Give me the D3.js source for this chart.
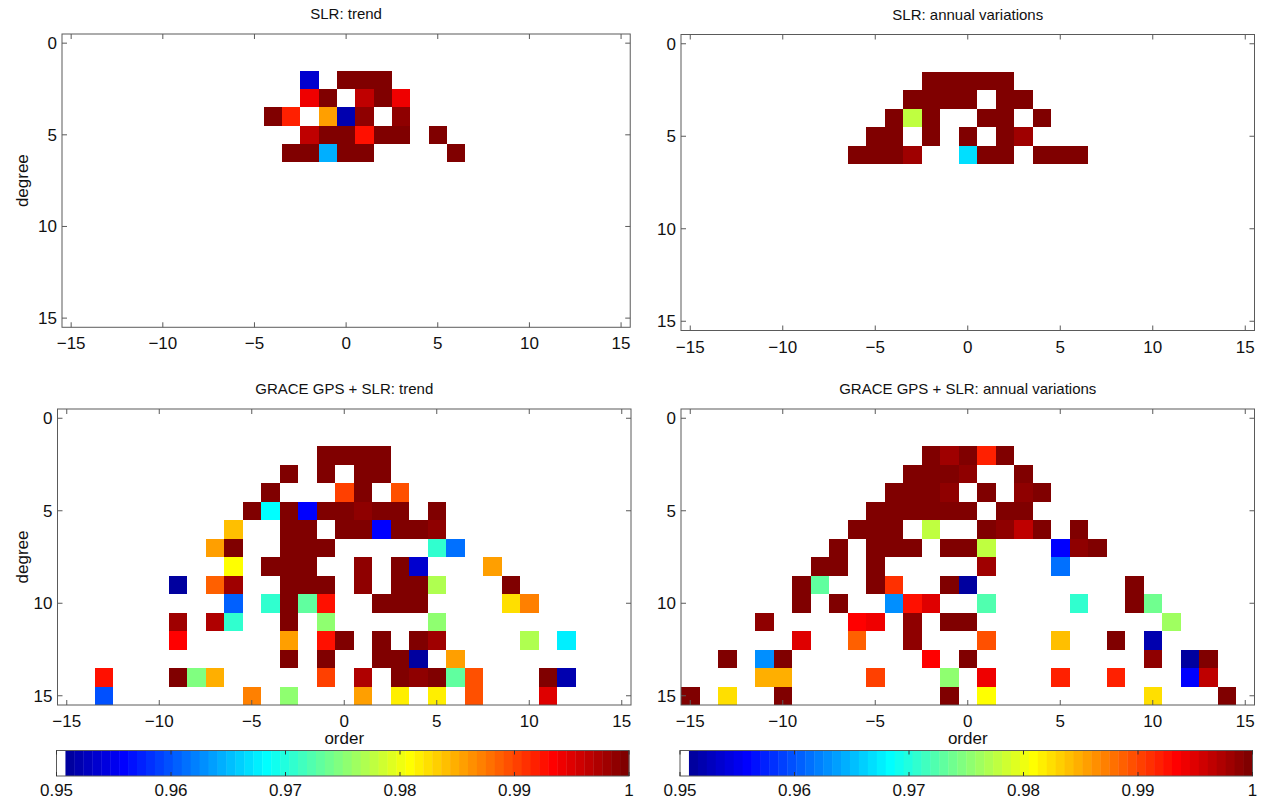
<!DOCTYPE html>
<html>
<head>
<meta charset="utf-8">
<script src="https://cdn.jsdelivr.net/npm/d3@7"></script>
<style>
  html, body { margin: 0; padding: 0; background: #fff; }
  svg { display: block; font-family: "Liberation Sans", Arial, Helvetica, sans-serif; }
</style>
</head>
<body>
<svg id="chart" width="1264" height="800"></svg>
<script>
// Correlation per spherical-harmonic coefficient: [degree, order, value]
const slrTrend = [
  [2,-2,0.9535],[2,0,1],[2,1,1],[2,2,1],
  [3,-2,0.9941],[3,-1,1],[3,1,0.9965],[3,2,1],[3,3,0.9941],
  [4,-4,1],[4,-3,0.9918],[4,-1,0.9855],[4,0,0.9520],[4,1,0.9988],[4,3,0.9988],
  [5,-2,0.9965],[5,-1,1],[5,0,1],[5,1,0.9926],[5,2,1],[5,3,1],[5,5,1],
  [6,-3,1],[6,-2,1],[6,-1,0.9645],[6,0,1],[6,1,1],[6,6,1]
];

const slrAnnual = [
  [2,-2,1],[2,-1,1],[2,0,1],[2,1,1],[2,2,1],
  [3,-3,1],[3,-2,1],[3,-1,1],[3,0,1],[3,2,1],[3,3,1],
  [4,-4,1],[4,-3,0.9777],[4,-2,1],[4,1,1],[4,2,1],[4,4,1],
  [5,-5,1],[5,-4,1],[5,-2,1],[5,0,1],[5,2,1],[5,3,0.998],
  [6,-6,1],[6,-5,1],[6,-4,1],[6,-3,0.998],[6,0,0.9668],[6,1,1],[6,2,1],[6,4,1],[6,5,1],[6,6,1]
];

const graceTrend = [
  [2,-1,1],[2,0,1],[2,1,1],[2,2,1],
  [3,-3,1],[3,-1,1],[3,1,1],[3,2,1],
  [4,-4,1],[4,0,0.9906],[4,1,1],[4,3,0.9895],
  [5,-5,1],[5,-4,0.9684],[5,-3,1],[5,-2,0.9559],[5,-1,1],[5,0,1],[5,1,0.9988],[5,2,1],[5,3,1],[5,5,1],
  [6,-6,0.9840],[6,-3,1],[6,-2,1],[6,0,1],[6,1,1],[6,2,0.9559],[6,3,1],[6,4,1],[6,5,0.9988],
  [7,-7,0.9855],[7,-6,1],[7,-3,1],[7,-2,1],[7,-1,1],[7,5,0.9707],[7,6,0.9613],
  [8,-6,0.9809],[8,-4,1],[8,-3,1],[8,-2,1],[8,1,0.9988],[8,3,1],[8,4,0.9535],[8,8,0.9855],
  [9,-9,0.9512],[9,-7,0.9887],[9,-6,0.998],[9,-3,1],[9,-2,1],[9,-1,1],[9,1,0.9988],[9,3,1],[9,4,1],[9,5,0.9770],[9,9,1],
  [10,-6,0.9605],[10,-4,0.9707],[10,-3,1],[10,-2,0.9727],[10,-1,0.9926],[10,2,1],[10,3,1],[10,4,1],[10,9,0.9824],[10,10,0.9871],
  [11,-9,0.998],[11,-7,0.9973],[11,-6,0.9707],[11,-3,1],[11,-1,0.9754],[11,5,0.9754],
  [12,-9,0.9934],[12,-3,0.9855],[12,-1,0.9926],[12,0,1],[12,2,1],[12,4,1],[12,5,0.998],[12,10,0.9770],[12,12,0.9676],
  [13,-3,1],[13,-1,1],[13,2,1],[13,3,1],[13,4,0.9512],[13,6,0.9855],
  [14,-13,0.9926],[14,-9,1],[14,-8,0.9746],[14,-7,0.9848],[14,-1,0.9902],[14,1,0.9973],[14,3,1],[14,4,0.9988],[14,5,1],[14,6,0.9730],[14,7,0.9895],[14,11,1],[14,12,0.9520],
  [15,-13,0.9598],[15,-5,0.9871],[15,-3,0.9754],[15,1,0.9855],[15,3,0.9816],[15,5,0.9816],[15,7,0.9895],[15,11,0.9949]
];

const graceAnnual = [
  [2,-2,1],[2,-1,0.998],[2,0,1],[2,1,0.9918],[2,2,1],
  [3,-3,1],[3,-2,1],[3,-1,1],[3,0,0.9988],[3,3,1],
  [4,-4,1],[4,-3,1],[4,-2,1],[4,-1,0.9988],[4,1,1],[4,3,0.9988],[4,4,1],
  [5,-5,1],[5,-4,1],[5,-3,1],[5,-2,1],[5,-1,1],[5,0,1],[5,2,1],[5,3,1],
  [6,-6,1],[6,-5,1],[6,-4,1],[6,-2,0.9777],[6,1,1],[6,2,0.9988],[6,3,0.9965],[6,4,1],[6,6,1],
  [7,-7,1],[7,-5,1],[7,-4,1],[7,-3,1],[7,-1,1],[7,0,1],[7,1,0.9777],[7,5,0.9559],[7,6,0.9988],[7,7,1],
  [8,-8,1],[8,-7,1],[8,-5,1],[8,1,0.998],[8,5,0.9613],
  [9,-9,1],[9,-8,0.9730],[9,-5,1],[9,-4,0.9910],[9,-1,1],[9,0,0.9512],[9,9,1],
  [10,-9,1],[10,-7,1],[10,-4,0.9629],[10,-3,0.9926],[10,-2,0.9949],[10,1,0.9723],[10,6,0.9707],[10,9,1],[10,10,0.9738],
  [11,-11,0.9988],[11,-6,0.9934],[11,-5,0.9941],[11,-3,0.9988],[11,-1,1],[11,0,1],[11,11,0.9762],
  [12,-9,0.9949],[12,-6,0.9887],[12,-3,0.9988],[12,1,0.9895],[12,5,0.9840],[12,8,1],[12,10,0.9520],
  [13,-13,1],[13,-11,0.9629],[13,-10,1],[13,-2,0.9934],[13,0,1],[13,10,0.9988],[13,12,0.9512],[13,13,1],
  [14,-11,0.9848],[14,-10,0.9848],[14,-5,0.9902],[14,-1,0.9754],[14,1,0.9941],[14,5,0.9918],[14,8,0.9918],[14,12,0.9559],[14,13,0.9965],
  [15,-15,1],[15,-13,0.9824],[15,-10,1],[15,-1,1],[15,1,0.9809],[15,10,0.9824],[15,14,1]
];

const orderTicks  = [-15, -10, -5, 0, 5, 10, 15];
const degreeTicks = [0, 5, 10, 15];
const colorTicks  = [0.95, 0.96, 0.97, 0.98, 0.99, 1];
const colorTickLabels = ["0.95", "0.96", "0.97", "0.98", "0.99", "1"];
const colorDomain = [0.95, 1];

// MATLAB-style jet(m)
function jet(m) {
  const n = Math.ceil(m / 4);
  const u = [];
  for (let i = 1; i <= n; i++) u.push(i / n);
  for (let i = 1; i <= n - 1; i++) u.push(1);
  for (let i = n; i >= 1; i--) u.push(i / n);
  const off = Math.ceil(n / 2) - (m % 4 === 1 ? 1 : 0);
  const J = Array.from({ length: m }, () => [0, 0, 0]);
  u.forEach((val, k) => {
    const g = off + k + 1, r = g + n, b = g - n;
    if (g >= 1 && g <= m) J[g - 1][1] = val;
    if (r >= 1 && r <= m) J[r - 1][0] = val;
    if (b >= 1 && b <= m) J[b - 1][2] = val;
  });
  return J;
}

// 64-entry colormap: lowest bin white, remaining bins from jet(64)
const NBINS = 64;
const jetMap = jet(NBINS);
const cmap = jetMap.map((c, i) => i === 0 ? "#ffffff" : d3.rgb(c[0] * 255, c[1] * 255, c[2] * 255).formatHex());
const binScale = d3.scaleQuantize().domain(colorDomain).range(d3.range(NBINS));
function binOf(v) { return v >= colorDomain[1] ? NBINS - 1 : (v < colorDomain[0] ? 0 : binScale(v)); }
function colorOf(v) { return cmap[binOf(v)]; }

const svg = d3.select("#chart");
const AXIS = "#5a5a5a";
const TEXT = "#111";
const FS_TITLE = 15;
const FS_TICK = 17;
const FS_LABEL = 17;

const panels = [
  { title: "SLR: trend", cells: slrTrend, x0: 62, y0: 34, u: 18.33, ylabel: true, xlabel: false },
  { title: "SLR: annual variations", cells: slrAnnual, x0: 681, y0: 34.5, u: 18.5, ylabel: false, xlabel: false },
  { title: "GRACE GPS + SLR: trend", cells: graceTrend, x0: 57.5, y0: 409, u: 18.5, ylabel: true, xlabel: true, cbar: true },
  { title: "GRACE GPS + SLR: annual variations", cells: graceAnnual, x0: 681, y0: 409, u: 18.5, ylabel: false, xlabel: true, cbar: true }
];

panels.forEach(p => {
  const x = d3.scaleLinear().domain([-15.5, 15.5]).range([p.x0, p.x0 + 31 * p.u]);
  const y = d3.scaleLinear().domain([-0.5, 15.5]).range([p.y0, p.y0 + 16 * p.u]);
  const [xl, xr] = x.range(), [yt, yb] = y.range();
  const g = svg.append("g");

  // coefficient cells
  g.append("g").selectAll("rect")
    .data(p.cells.filter(d => binOf(d[2]) > 0))
    .join("rect")
    .attr("x", d => x(d[1] - 0.5))
    .attr("y", d => y(d[0] - 0.5))
    .attr("width", d => x(d[1] + 0.5) - x(d[1] - 0.5))
    .attr("height", d => y(d[0] + 0.5) - y(d[0] - 0.5))
    .attr("fill", d => colorOf(d[2]))
    .attr("shape-rendering", "crispEdges");

  // box
  g.append("rect").attr("x", xl).attr("y", yt).attr("width", xr - xl).attr("height", yb - yt)
    .attr("fill", "none").attr("stroke", AXIS).attr("stroke-width", 1);

  const TL = 5;
  // x ticks (inward, bottom and top)
  orderTicks.forEach(t => {
    g.append("line").attr("x1", x(t)).attr("x2", x(t)).attr("y1", yb).attr("y2", yb - TL).attr("stroke", AXIS);
    g.append("line").attr("x1", x(t)).attr("x2", x(t)).attr("y1", yt).attr("y2", yt + TL).attr("stroke", AXIS);
  });
  g.append("g").selectAll("text").data(orderTicks).join("text")
    .attr("x", d => x(d)).attr("y", yb + 22)
    .attr("text-anchor", "middle").attr("font-size", FS_TICK).attr("fill", TEXT)
    .text(d => d < 0 ? "\u2212" + Math.abs(d) : String(d));

  // y ticks (inward, left and right)
  degreeTicks.forEach(t => {
    g.append("line").attr("x1", xl).attr("x2", xl + TL).attr("y1", y(t)).attr("y2", y(t)).attr("stroke", AXIS);
    g.append("line").attr("x1", xr).attr("x2", xr - TL).attr("y1", y(t)).attr("y2", y(t)).attr("stroke", AXIS);
  });
  g.append("g").selectAll("text").data(degreeTicks).join("text")
    .attr("x", xl - 5).attr("y", d => y(d) + 6)
    .attr("text-anchor", "end").attr("font-size", FS_TICK).attr("fill", TEXT)
    .text(d => String(d));

  // title
  g.append("text").attr("x", (xl + xr) / 2).attr("y", yt - 15)
    .attr("text-anchor", "middle").attr("font-size", FS_TITLE).attr("fill", TEXT).text(p.title);

  if (p.ylabel) {
    g.append("text").attr("transform", `translate(28,${(yt + yb) / 2}) rotate(-90)`)
      .attr("text-anchor", "middle").attr("font-size", FS_LABEL).attr("fill", TEXT).text("degree");
  }
  if (p.xlabel) {
    g.append("text").attr("x", (xl + xr) / 2).attr("y", yb + 39)
      .attr("text-anchor", "middle").attr("font-size", FS_LABEL).attr("fill", TEXT).text("order");
  }

  if (p.cbar) {
    const cx = d3.scaleLinear().domain(colorDomain).range([xl - 1, xr - 2]);
    const cy0 = 750.5, ch = 25.5;
    const step = (colorDomain[1] - colorDomain[0]) / NBINS;
    const cb = svg.append("g");
    cb.selectAll("rect.bin").data(d3.range(NBINS)).join("rect")
      .attr("class", "bin")
      .attr("x", i => cx(colorDomain[0] + i * step))
      .attr("y", cy0)
      .attr("width", i => cx(colorDomain[0] + (i + 1) * step) - cx(colorDomain[0] + i * step) + 0.4)
      .attr("height", ch)
      .attr("fill", i => cmap[i]);
    cb.append("rect").attr("x", cx.range()[0]).attr("y", cy0)
      .attr("width", cx.range()[1] - cx.range()[0]).attr("height", ch)
      .attr("fill", "none").attr("stroke", AXIS);
    colorTicks.forEach(t => {
      cb.append("line").attr("x1", cx(t)).attr("x2", cx(t)).attr("y1", cy0).attr("y2", cy0 + 4).attr("stroke", "#333");
      cb.append("line").attr("x1", cx(t)).attr("x2", cx(t)).attr("y1", cy0 + ch).attr("y2", cy0 + ch - 4).attr("stroke", "#333");
    });
    cb.append("g").selectAll("text").data(colorTicks).join("text")
      .attr("x", d => cx(d)).attr("y", cy0 + ch + 20)
      .attr("text-anchor", "middle").attr("font-size", FS_TICK).attr("fill", TEXT)
      .text((d, i) => colorTickLabels[i]);
  }
});
</script>
</body>
</html>
